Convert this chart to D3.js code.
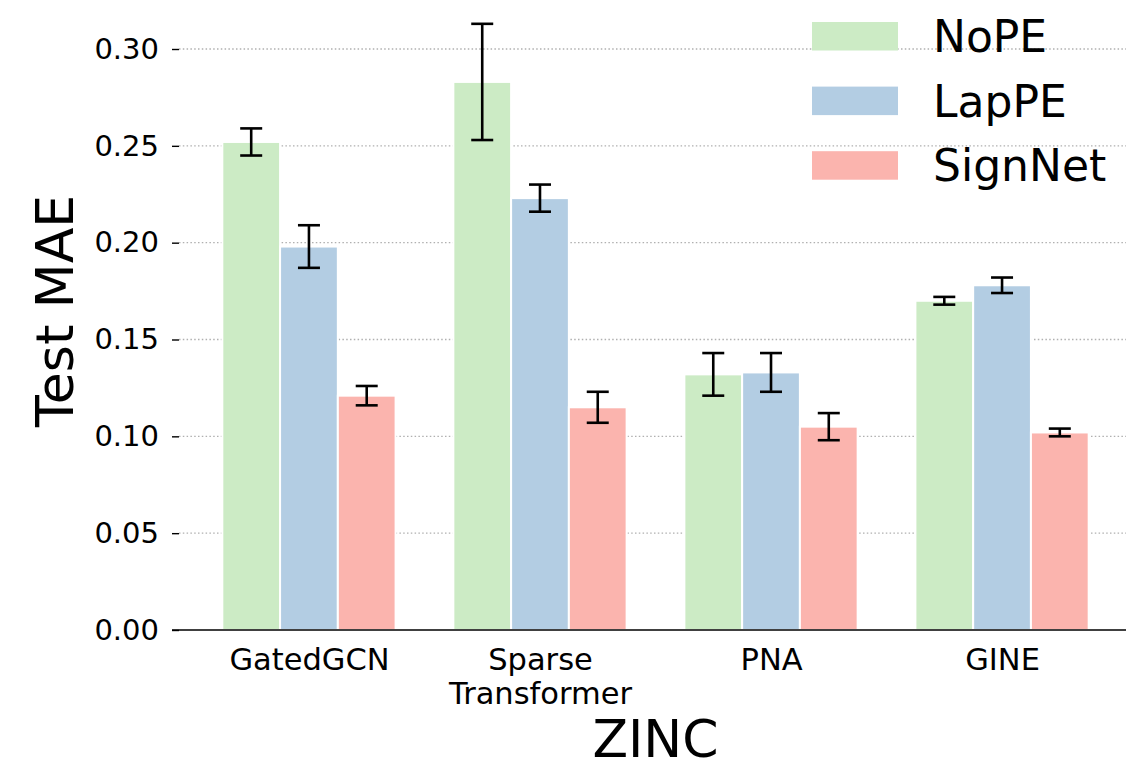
<!DOCTYPE html>
<html>
<head>
<meta charset="utf-8">
<script src="https://cdn.jsdelivr.net/npm/d3@7"></script>
<style>
  html, body { margin: 0; padding: 0; background: #ffffff; }
  svg { display: block; }
  text { font-family: "DejaVu Sans", sans-serif; fill: #000; }
</style>
</head>
<body>
<div id="chart"></div>
<script>
// ---- data ----
const categories = ["GatedGCN", "Sparse\nTransformer", "PNA", "GINE"];
const seriesNames = ["NoPE", "LapPE", "SignNet"];
const seriesColors = ["#ccebc5", "#b3cde3", "#fbb4ae"];
const nopeValues = [0.252, 0.283, 0.132, 0.170];
const nopeErrors = [0.007, 0.030, 0.011, 0.002];
const lappeValues = [0.198, 0.223, 0.133, 0.178];
const lappeErrors = [0.011, 0.007, 0.010, 0.004];
const signnetValues = [0.121, 0.115, 0.105, 0.102];
const signnetErrors = [0.005, 0.008, 0.007, 0.002];
const yTickValues = [0.00, 0.05, 0.10, 0.15, 0.20, 0.25, 0.30];
const xAxisTitle = "ZINC";
const yAxisTitle = "Test MAE";

const seriesValues = [nopeValues, lappeValues, signnetValues];
const seriesErrors = [nopeErrors, lappeErrors, signnetErrors];

// ---- layout ----
const W = 1126, H = 765;
const barWidth = 0.25;
const svg = d3.select("#chart").append("svg").attr("width", W).attr("height", H);

const x = d3.scaleLinear().domain([-0.5625, categories.length - 1 + 0.5625]).range([179, 1132]);
const y = d3.scaleLinear().domain([0, 0.30]).range([630, 49]);

// grid
svg.append("g").selectAll("line").data(yTickValues.filter(d => d > 0)).join("line")
  .attr("x1", x.range()[0]).attr("x2", W)
  .attr("y1", d => y(d)).attr("y2", d => y(d))
  .attr("stroke", "#b0b0b0").attr("stroke-width", 1.3)
  .attr("stroke-dasharray", "1.5,2.3");

// bars
const barData = [];
seriesNames.forEach((s, si) => {
  categories.forEach((c, ci) => {
    barData.push({ si, ci, v: seriesValues[si][ci], e: seriesErrors[si][ci] });
  });
});
const xc = d => x(d.ci + (d.si - 1) * barWidth);
const bw = x(barWidth) - x(0);

svg.append("g").selectAll("rect").data(barData).join("rect")
  .attr("x", d => xc(d) - bw / 2)
  .attr("width", bw)
  .attr("y", d => y(d.v))
  .attr("height", d => y(0) - y(d.v))
  .attr("fill", d => seriesColors[d.si])
  .attr("stroke", "#ffffff").attr("stroke-width", 2);

// error bars
const eg = svg.append("g").attr("stroke", "#000").attr("stroke-width", 2.6);
const capHalf = 11;
barData.forEach(d => {
  const cx = xc(d);
  eg.append("line").attr("x1", cx).attr("x2", cx).attr("y1", y(d.v - d.e)).attr("y2", y(d.v + d.e));
  eg.append("line").attr("x1", cx - capHalf).attr("x2", cx + capHalf).attr("y1", y(d.v + d.e)).attr("y2", y(d.v + d.e));
  eg.append("line").attr("x1", cx - capHalf).attr("x2", cx + capHalf).attr("y1", y(d.v - d.e)).attr("y2", y(d.v - d.e));
});

// y axis (ticks + labels, no spine)
const yAxis = d3.axisLeft(y).tickValues(yTickValues).tickFormat(d3.format(".2f")).tickSize(7).tickPadding(13);
const yg = svg.append("g").attr("transform", `translate(${x.range()[0]},0)`).call(yAxis);
yg.select(".domain").remove();
yg.selectAll(".tick line").attr("stroke", "#000").attr("stroke-width", 1.4);
yg.selectAll(".tick text").attr("font-size", 29).attr("font-family", "DejaVu Sans").attr("fill", "#000");

// x axis (bottom spine, no ticks)
const xAxis = d3.axisBottom(x).tickValues(d3.range(categories.length)).tickSize(0).tickFormat("");
const xg = svg.append("g").attr("transform", `translate(0,${y(0)})`).call(xAxis);
xg.select(".domain").remove();
svg.append("line").attr("x1", 172).attr("x2", W).attr("y1", y(0)).attr("y2", y(0))
  .attr("stroke", "#000").attr("stroke-width", 1.5);

xg.selectAll(".tick").each(function(d) {
  const lines = categories[d].split("\n");
  const t = d3.select(this).append("text")
    .attr("text-anchor", "middle").attr("font-size", 30.5).attr("fill", "#000");
  lines.forEach((ln, i) => {
    t.append("tspan").attr("x", 0).attr("y", 40 + i * 34).text(ln);
  });
});

// axis titles
svg.append("text").attr("x", (x.range()[0] + x.range()[1]) / 2).attr("y", 757)
  .attr("text-anchor", "middle").attr("font-size", 52).text(xAxisTitle);
svg.append("text").attr("transform", "translate(73,311) rotate(-90)")
  .attr("text-anchor", "middle").attr("font-size", 52).text(yAxisTitle);

// legend
const lg = svg.append("g");
seriesNames.forEach((s, i) => {
  const yy = 22 + i * 64.6;
  lg.append("rect").attr("x", 812).attr("y", yy).attr("width", 86).attr("height", 28.5).attr("fill", seriesColors[i]);
  lg.append("text").attr("x", 933).attr("y", yy + 30).attr("font-size", 44).text(s);
});
</script>
</body>
</html>
